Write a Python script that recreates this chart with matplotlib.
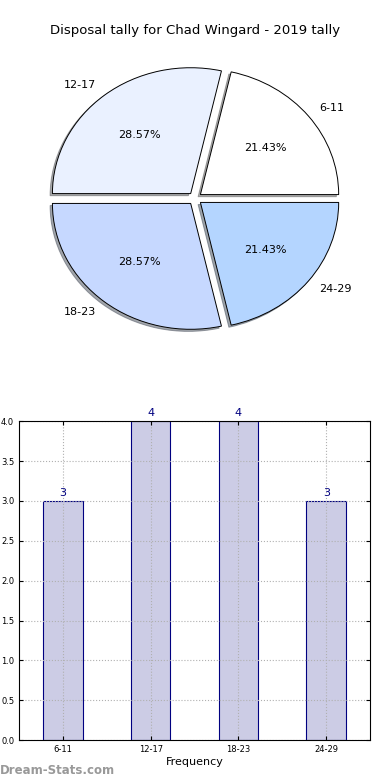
import matplotlib
matplotlib.use('Agg')
import matplotlib.pyplot as plt
import numpy as np

# === Data ===
groups = ["6-11", "12-17", "18-23", "24-29"]
counts = [3, 4, 4, 3]
pie_colors = ["#ffffff", "#eaf1ff", "#c6d8ff", "#b4d5ff"]
yticks = [0.0, 0.5, 1.0, 1.5, 2.0, 2.5, 3.0, 3.5, 4.0]

fig = plt.figure(figsize=(3.9, 7.8), dpi=100)

# === Pie ===
ax_pie = fig.add_axes([0.110, 0.568, 0.78, 0.355])
wedges, texts, autotexts = ax_pie.pie(
    counts, labels=groups, colors=pie_colors, explode=[0.05] * len(counts),
    shadow=dict(ox=-0.012, oy=-0.012, shade=0.65), startangle=0,
    autopct='%.2f%%', labeldistance=1.1, pctdistance=0.6,
    wedgeprops=dict(edgecolor='black', linewidth=0.7),
    textprops=dict(fontsize=8))
ax_pie.set_aspect('auto')
ax_pie.set_xlim(-1.1, 1.1)
ax_pie.set_ylim(-1.1, 1.1)
ax_pie.axis('off')
fig.text(0.5, 0.961, "Disposal tally for Chad Wingard - 2019 tally",
         ha='center', va='center', fontsize=9.5)

# === Bars ===
ax = fig.add_axes([0.049, 0.051, 0.9, 0.409])
x = np.arange(len(groups))
bars = ax.bar(x, counts, width=0.45, color='#cccce5',
              edgecolor='navy', linewidth=0.8, zorder=2)
for b, v in zip(bars, counts):
    ax.text(b.get_x() + b.get_width() / 2, v + 0.04, str(v), ha='center',
            va='bottom', color='navy', fontsize=8)
ax.set_xlim(-0.5, 3.5)
ax.set_ylim(0, 4)
ax.set_xticks(x)
ax.set_xticklabels(groups)
ax.set_yticks(yticks)
ax.tick_params(labelsize=6, direction='in', top=True, right=True, length=3)
ax.set_axisbelow(False)
ax.grid(True, linestyle=':', color='#b0b0b0', linewidth=0.8, zorder=3)
for sp in ax.spines.values():
    sp.set_zorder(4)
ax.set_xlabel("Frequency", fontsize=8, labelpad=2)

fig.text(0.0, 0.004, "Dream-Stats.com", color='#999999', fontsize=8.5,
         fontweight='bold', ha='left', va='bottom')

plt.savefig("out.png", dpi=100)
